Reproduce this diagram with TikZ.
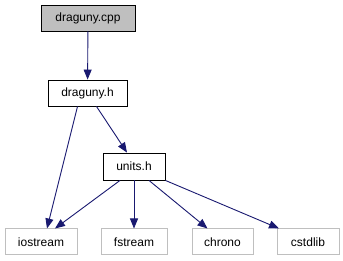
\documentclass[tikz,border=0pt]{standalone}
\usepackage{fontspec}
\setmainfont{Liberation Sans}
\usetikzlibrary{arrows.meta}

\definecolor{edgeblue}{HTML}{191970}
\definecolor{boxgray}{HTML}{BFBFBF}

\tikzset{
  file/.style={draw=black,fill=white,line width=0.9pt,inner sep=0pt,
    minimum height=26pt,font=\fontsize{12}{12}\selectfont},
  main/.style={file,fill=boxgray},
  sys/.style={file,draw=boxgray,line width=1pt},
  dep/.style={draw=edgeblue,line width=0.9pt,
    -{Triangle[length=10pt,width=8pt,fill=edgeblue]}}
}

\begin{document}
\begin{tikzpicture}[x=1pt,y=-1pt]
            \useasboundingbox (0,0) rectangle (343,261);
            \node[main,minimum width=94pt] at (88,18) (cpp) {draguny.cpp};
            \node[file,minimum width=79pt] at (87.5,93) (dh) {draguny.h};
            \node[file,minimum width=62pt,minimum height=27pt] at (134,166.5) (units) {units.h};
            \node[sys,minimum width=72pt] at (41,242) (ios) {iostream};
            \node[sys,minimum width=66pt] at (134,242) (fs) {fstream};
            \node[sys,minimum width=61pt] at (222.5,242) (chr) {chrono};
            \node[sys,minimum width=62pt] at (308,242) (cstd) {cstdlib};
            \draw[dep] (cpp) to (dh);
            \draw[dep] ([xshift=-10pt]dh.south) to ([xshift=6pt]ios.north);
            \draw[dep] ([xshift=9pt]dh.south) to ([xshift=-7pt]units.north);
            \draw[dep] ([xshift=-14pt]units.south) to ([xshift=14pt]ios.north);
            \draw[dep] (units) to (fs);
            \draw[dep] ([xshift=15pt]units.south) to ([xshift=-15pt]chr.north);
            \draw[dep] (units.south east) to ([xshift=-29pt]cstd.north);
        \end{tikzpicture}
\end{document}
